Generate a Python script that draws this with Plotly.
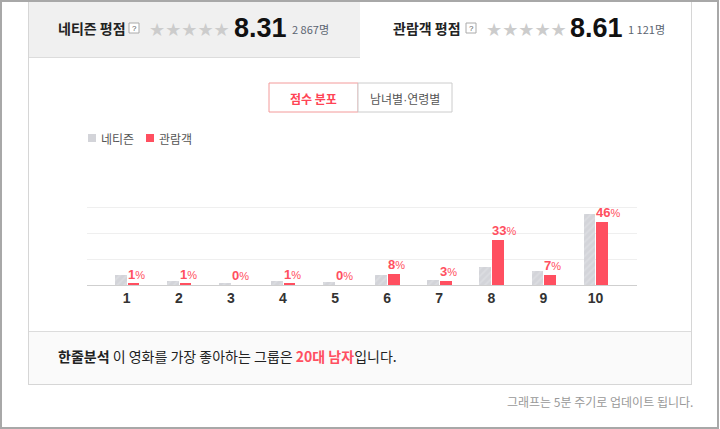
import plotly.graph_objects as go

# ---- data ----
scores = [1, 2, 3, 4, 5, 6, 7, 8, 9, 10]
tick_labels = ["1", "2", "3", "4", "5", "6", "7", "8", "9", "10"]
netizen_pct = [7, 3, 1, 3, 2, 7, 4, 13, 10, 52]
audience_pct = [1, 1, 0, 1, 0, 8, 3, 33, 7, 46]
series_names = ["네티즌", "관람객"]
netizen_rating = "8.31"
netizen_count = "2 867명"
audience_rating = "8.61"
audience_count = "1 121명"
tabs = ["점수 분포", "남녀별", "연령별"]
summary_label = "한줄분석"
summary_pre = "이 영화를 가장 좋아하는 그룹은 "
summary_hl = "20대 남자"
summary_post = "입니다."
footer = "그래프는 5분 주기로 업데이트 됩니다."

RED = "#ff4f60"
GRAY_BAR = "#d3d4d9"
KR = "Noto Sans CJK KR"
NUM = "Liberation Sans"

# plot area in pixels
L, R, T, B = 87, 637, 181, 285
W, H = 720, 429


def px(x):
    return (x - L) / (R - L)


def py(y):
    return (B - y) / (B - T)


fig = go.Figure()
fig.add_trace(go.Bar(
    x=scores, y=netizen_pct, name=series_names[0],
    width=0.225, offset=-0.228,
    marker=dict(color=GRAY_BAR, line=dict(width=0),
                pattern=dict(shape="/", bgcolor=GRAY_BAR, fgcolor="#e3e4e7",
                             size=5, solidity=0.35)),
    hoverinfo="skip", showlegend=False,
))
fig.add_trace(go.Bar(
    x=scores, y=audience_pct, name=series_names[1],
    width=0.225, offset=0.015,
    marker=dict(color=RED, line=dict(width=0)),
    hoverinfo="skip", showlegend=False,
))

annotations = []
# bar value labels
for s, v in zip(scores, audience_pct):
    annotations.append(dict(
        x=s + 0.015, y=v, xref="x", yref="y", xanchor="left", yanchor="bottom",
        text=f"<b>{v}</b><span style='font-size:11px'>%</span>",
        showarrow=False, font=dict(family=NUM, size=13, color=RED),
        xshift=-2, yshift=0,
    ))

shapes = []


def rect(x0, y0, x1, y1, fill=None, line=None, lw=1, layer="below"):
    shapes.append(dict(type="rect", xref="paper", yref="paper",
                       x0=px(x0), x1=px(x1), y0=py(y0), y1=py(y1),
                       fillcolor=fill if fill else "rgba(0,0,0,0)",
                       line=dict(color=line if line else "rgba(0,0,0,0)", width=lw if line else 0),
                       layer=layer))


def hline(x0, x1, y, color, lw=1):
    shapes.append(dict(type="line", xref="paper", yref="paper",
                       x0=px(x0), x1=px(x1), y0=py(y), y1=py(y),
                       line=dict(color=color, width=lw), layer="below"))


def vline(x, y0, y1, color, lw=1):
    shapes.append(dict(type="line", xref="paper", yref="paper",
                       x0=px(x), x1=px(x), y0=py(y0), y1=py(y1),
                       line=dict(color=color, width=lw), layer="below"))


def text(x, y, t, size, color, family=KR, anchor="left", weight=None):
    f = dict(family=family, size=size, color=color)
    if weight:
        f["weight"] = weight
    annotations.append(dict(x=px(x), y=py(y), xref="paper", yref="paper",
                            xanchor=anchor, yanchor="middle", text=t,
                            showarrow=False, font=f))


# header panel and boxes
rect(28, 0, 360, 57, fill="#f0f0f0")
rect(28, 331, 692, 384, fill="#fafafa")
hline(28, 692, 331.5, "#dcdcdc")
hline(28, 360, 57.5, "#dcdcdc")
vline(28.5, 0, 384, "#d6d6d6")
vline(691.5, 0, 384, "#d6d6d6")
hline(28, 692, 384.5, "#d6d6d6")
rect(1, 1, 718, 428, line="#a8a8a8", lw=2)

# header texts
for (lx, title, qx, sx, rating_x, rating, cnt_x, cnt) in [
    (57, "네티즌 평점", 129, 149, 234, netizen_rating, 291, netizen_count),
    (392, "관람객 평점", 466, 486, 570, audience_rating, 627, audience_count),
]:
    text(lx - 1, 28, f"<b>{title}</b>", 14, "#222")
    rect(qx, 23, qx + 10, 33, fill="#ffffff", line="#aaaaaa", lw=1, layer="above")
    text(qx + 5, 28.5, "?", 8, "#555", family=NUM, anchor="center")
    text(sx - 2, 29, "★★★★★", 18, "#cccccc", family="DejaVu Sans")
    text(rating_x - 2, 28, f"<b>{rating}</b>", 27, "#111", family=NUM)
    text(cnt_x - 1, 29, cnt, 11, "#5b6470", family=KR)

# tabs
rect(269, 83, 358, 112, fill="#ffffff", line="#f39a9a", lw=1)
rect(358, 83, 452, 112, fill="#ffffff", line="#cccccc", lw=1)
text(313.5, 98, f"<b>{tabs[0]}</b>", 12, "#ff4455", anchor="center")
text(405, 98, f"{tabs[1]}<span style='font-family:Liberation Sans'>·</span>{tabs[2]}",
     12, "#555", anchor="center")

# legend
rect(88, 134, 96, 142, fill=GRAY_BAR)
text(99, 138, series_names[0], 12, "#555")
rect(146, 134, 154, 142, fill=RED)
text(157, 138, series_names[1], 12, "#555")

# summary + footer
text(56, 356, f"<b>{summary_label}</b> {summary_pre}<b><span style='color:{RED}'>{summary_hl}</span></b>{summary_post}",
     14, "#222")
text(695, 401, footer, 12, "#999", anchor="right")

fig.update_layout(
    width=W, height=H,
    margin=dict(l=L, r=W - R, t=T, b=H - B, pad=0),
    paper_bgcolor="#ffffff", plot_bgcolor="rgba(0,0,0,0)",
    barmode="overlay", bargap=0,
    shapes=shapes, annotations=annotations,
    xaxis=dict(range=[0.237, 10.797], tickmode="array", tickvals=scores, ticktext=tick_labels,
               showgrid=False, zeroline=False, showline=True, linecolor="#cfcfcf", linewidth=1,
               ticks="", tickfont=dict(family=NUM, size=14, color="#333", weight="bold"),
               fixedrange=True),
    yaxis=dict(range=[0, 76.2], tickmode="array", tickvals=[19, 38, 57, 76],
               showgrid=True, gridcolor="#efefef", gridwidth=1,
               zeroline=False, showticklabels=False, showline=False, fixedrange=True),
    showlegend=False,
)

fig.write_html("out.html", config={"displayModeBar": False},
               post_script="document.body.style.margin='0';document.body.style.overflow='hidden';")
